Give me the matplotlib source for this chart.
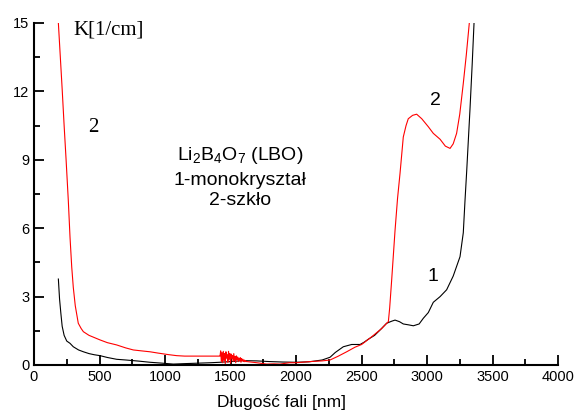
import numpy as np
import matplotlib
matplotlib.use("Agg")
import matplotlib.pyplot as plt
from matplotlib.ticker import MultipleLocator

plt.rcParams['font.family'] = ['Liberation Sans', 'DejaVu Sans']
plt.rcParams['mathtext.fontset'] = 'custom'
plt.rcParams['mathtext.rm'] = 'Liberation Sans'
plt.rcParams['mathtext.it'] = 'Liberation Sans'

# curve 1 - monokrysztal (black)
wl1 = [186, 195, 205, 215, 230, 250, 275, 300, 340, 377, 420, 460, 504, 560,
       631, 700, 800, 885, 980, 1063, 1150, 1250, 1350, 1420, 1500, 1600,
       1700, 1800, 1900, 2000, 2100, 2200, 2260, 2300, 2361, 2425, 2489, 2520,
       2552, 2600, 2641, 2692, 2730, 2756, 2790, 2819, 2860, 2896, 2940, 2972,
       3010, 3048, 3100, 3150, 3200, 3252, 3277, 3290, 3303, 3328, 3345, 3359,
       3370]
k1 = [3.77, 2.9, 2.27, 1.7, 1.3, 1.05, 0.95, 0.8, 0.66, 0.58, 0.5, 0.45, 0.41,
      0.33, 0.25, 0.22, 0.17, 0.12, 0.08, 0.04, 0.06, 0.08, 0.1, 0.12, 0.15,
      0.19, 0.18, 0.15, 0.13, 0.12, 0.14, 0.22, 0.34, 0.55, 0.8, 0.9, 0.9, 1.0,
      1.13, 1.3, 1.53, 1.83, 1.92, 1.97, 1.9, 1.8, 1.76, 1.72, 1.8, 2.05,
      2.3, 2.75, 3.0, 3.3, 3.9, 4.75, 5.8, 7.2, 8.5, 11.2, 13.2, 15.0, 16.0]

# curve 2 - szklo (red)
wl2_a = [186, 200, 215, 230, 245, 262, 275, 288, 300, 315, 338, 360, 377, 420,
         504, 560, 631, 700, 758, 820, 885, 950, 1020, 1089, 1150, 1250, 1350,
         1418]
k2_a = [15.0, 13.6, 12.1, 10.5, 9.0, 7.2, 5.6, 4.3, 3.4, 2.6, 1.83, 1.6, 1.46,
        1.3, 1.1, 0.98, 0.88, 0.75, 0.66, 0.62, 0.58, 0.52, 0.46, 0.41, 0.39,
        0.39, 0.39, 0.39]
# noisy region 1420-1620 nm
wl2_n = list(range(1420, 1625, 5))
k2_n = [0.39, 0.62, 0.15, 0.55, 0.1, 0.6, 0.2, 0.5, 0.05, 0.58, 0.3, 0.45,
        0.12, 0.6, 0.25, 0.5, 0.08, 0.48, 0.3, 0.42, 0.15, 0.5, 0.2, 0.38,
        0.1, 0.4, 0.25, 0.35, 0.15, 0.3, 0.2, 0.32, 0.12, 0.28, 0.18, 0.25,
        0.15, 0.22, 0.14, 0.2, 0.15]
wl2_b = [1625, 1700, 1776, 1830, 1878, 1950, 2000, 2107, 2200, 2260, 2320,
         2387, 2450, 2501, 2578, 2654, 2692, 2705, 2715, 2730, 2756, 2775,
         2794, 2819, 2840, 2857, 2890, 2921, 2960, 3010, 3048, 3100, 3140,
         3176, 3200, 3226, 3250, 3277, 3300, 3323, 3335]
k2_b = [0.15, 0.1, 0.04, 0.05, 0.04, 0.1, 0.1, 0.15, 0.18, 0.22, 0.38, 0.58,
        0.78, 0.9, 1.24, 1.6, 1.83, 1.9, 2.5, 3.7, 5.9, 7.3, 8.4, 10.0, 10.5,
        10.8, 10.95, 11.0, 10.8, 10.45, 10.16, 9.9, 9.6, 9.5, 9.7, 10.16, 11.0,
        12.35, 13.6, 15.0, 16.0]

wl2 = wl2_a + wl2_n + wl2_b
k2 = k2_a + k2_n + k2_b

fig = plt.figure(figsize=(5.76, 4.16), dpi=100)
ax = fig.add_axes([34 / 576, 1 - 365 / 416, 524 / 576, 342 / 416])

ax.plot(wl1, k1, color='black', lw=0.8)
ax.plot(wl2, k2, color='red', lw=0.8)

ax.set_xlim(0, 4000)
ax.set_ylim(0, 15)
ax.xaxis.set_major_locator(MultipleLocator(500))
ax.xaxis.set_minor_locator(MultipleLocator(250))
ax.yaxis.set_major_locator(MultipleLocator(3))
ax.yaxis.set_minor_locator(MultipleLocator(1.5))
ax.tick_params(which='both', direction='in', width=1.3, labelsize=10.5)
ax.tick_params(which='major', length=7)
ax.tick_params(which='minor', length=4.5)
for s in ['top', 'right']:
    ax.spines[s].set_visible(False)
for s in ['left', 'bottom']:
    ax.spines[s].set_linewidth(1.5)

ax.set_xlabel('Długość fali [nm]', fontsize=12.5)
ax.xaxis.set_label_coords(0.473, -0.089)

ax.text(298, 14.7, 'K[1/cm]', family='Liberation Serif', fontsize=15,
        va='center', ha='left')
ax.text(450, 10.4, '2', family='Liberation Serif', fontsize=15,
        va='center', ha='center')
ax.text(1573, 9.2, r'Li$_2$B$_4$O$_7$ (LBO)', fontsize=14, ha='center', va='center')
ax.text(1573, 8.1, '1-monokryształ', fontsize=14, ha='center', va='center')
ax.text(1573, 7.2, '2-szkło', fontsize=14, ha='center', va='center')
ax.text(3061, 11.6, '2', fontsize=14, ha='center', va='center')
ax.text(3048, 3.87, '1', fontsize=14, ha='center', va='center')

fig.savefig('out.png', dpi=100)
